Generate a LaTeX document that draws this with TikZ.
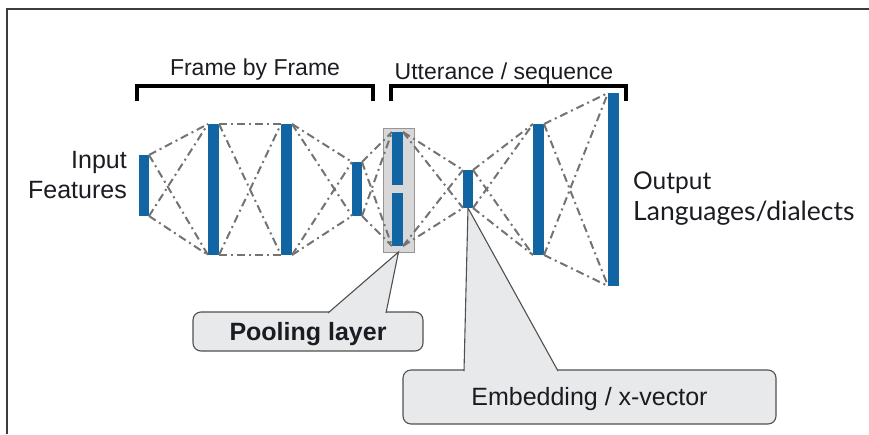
\documentclass[tikz,border=0pt]{standalone}
\usepackage{fontspec}
\setmainfont{Liberation Sans}
\newfontfamily\latofont{Lato}
\usetikzlibrary{calc}
\definecolor{barblue}{RGB}{17,101,163}
\definecolor{linkgray}{RGB}{115,115,115}
\definecolor{poolfill}{RGB}{216,216,216}
\definecolor{pooledge}{RGB}{150,150,150}
\definecolor{calloutfill}{RGB}{232,233,235}
\definecolor{calloutedge}{RGB}{80,80,80}
\definecolor{textdark}{RGB}{26,28,34}
\definecolor{framegray}{RGB}{60,60,60}
\tikzset{
  bar/.style={fill=barblue, draw=none, minimum width=11pt, inner sep=0pt, outer sep=0pt},
  poolbox/.style={fill=poolfill, draw=pooledge, line width=1pt, inner sep=0pt, outer sep=0pt},
  link/.style={draw=linkgray, line width=2pt, dash pattern=on 8pt off 4pt on 2pt off 4pt},
  bracket/.style={draw=black, line width=3.4pt, line join=miter},
  callout/.style={draw=calloutedge, fill=calloutfill, line width=1.1pt, rounded corners=8pt,
                  inner sep=0pt, text=textdark, text height=17.5pt, text depth=0pt},
  pointerfill/.style={fill=calloutfill, draw=none},
  pointeredge/.style={draw=calloutedge, line width=1.1pt},
  label/.style={inner sep=0pt, text=textdark, font=\fontsize{23}{27}\selectfont},
}
\begin{document}
\begin{tikzpicture}[x=1pt,y=-1pt]
\useasboundingbox (0,0) rectangle (869,434);

% outer frame (top and left edges)
\draw[framegray, line width=1.5pt] (7,434) -- (7,9) -- (869,9);

% section brackets and their titles
\draw[bracket] (137,101) -- (137,86) -- (373,86) -- (373,101);
\draw[bracket] (391,101) -- (391,86) -- (626,86) -- (626,101);
\node[label, anchor=base] (tframe) at (255,75) {Frame by Frame};
\node[label, anchor=base] (tutt) at (504,79) {Utterance / sequence};

% pooling block background
\node[poolbox, minimum width=31pt, minimum height=124pt] (pool) at (398.5,190) {};

% layers
\node[bar, minimum width=10pt, minimum height=61pt]  (in)  at (144,185.5) {};
\node[bar, minimum height=131pt] (h1)  at (213.5,189.5) {};
\node[bar, minimum height=131pt] (h2)  at (286.5,189.5) {};
\node[bar, minimum width=10pt, minimum height=54pt]  (h3)  at (357,189) {};
\node[bar, minimum height=53pt]  (pu)  at (397.5,158.5) {};
\node[bar, minimum height=53pt]  (pl)  at (397.5,219.5) {};
\node[bar, minimum width=10pt, minimum height=38pt]  (emb) at (468,189) {};
\node[bar, minimum height=131pt] (h5)  at (538.5,189.5) {};
\node[bar, minimum height=193pt] (out) at (613.5,189.5) {};

% full connections between consecutive layers
\foreach \at/\ab/\bt/\bb in {in/in/h1/h1, h1/h1/h2/h2, h2/h2/h3/h3, h3/h3/pu/pl,
                             pu/pl/emb/emb, emb/emb/h5/h5, h5/h5/out/out} {
  \draw[link] (\at.north east) -- (\bt.north west);
  \draw[link] (\at.north east) -- (\bb.south west);
  \draw[link] (\ab.south east) -- (\bt.north west);
  \draw[link] (\ab.south east) -- (\bb.south west);
}

% side labels
\node[label, anchor=base east, font=\fontsize{25}{30}\selectfont] (tin1) at (127,168) {Input};
\node[label, anchor=base east, font=\fontsize{25}{30}\selectfont] (tin2) at (127,198) {Features};
\node[label, anchor=base west, font=\latofont\fontsize{24.5}{29}\selectfont] (tout1) at (633,189) {Output};
\node[label, anchor=base west, font=\latofont\fontsize{26.5}{31}\selectfont] (tout2) at (633,220) {Languages/dialects};

% callout: pooling layer
\node[callout, minimum width=230pt, minimum height=39pt, font=\bfseries\fontsize{25}{30}\selectfont]
  (pcall) at (308,331.5) {Pooling layer};
\coordinate (pa) at (328,313);
\coordinate (pb) at (386,313);
\fill[pointerfill] (pa) -- (pool.south) -- (pb) -- cycle;
\draw[pointeredge] (pa) -- (pool.south) -- (pb);

% callout: embedding
\node[callout, minimum width=373pt, minimum height=54pt, font=\fontsize{25}{30}\selectfont]
  (ecall) at (589.5,397) {Embedding / x-vector};
\coordinate (ea) at (464,371);
\coordinate (eb) at (558,371);
\fill[pointerfill] (ea) -- (emb.south) -- (eb) -- cycle;
\draw[pointeredge] (ea) -- (emb.south) -- (eb);
\end{tikzpicture}
\end{document}
